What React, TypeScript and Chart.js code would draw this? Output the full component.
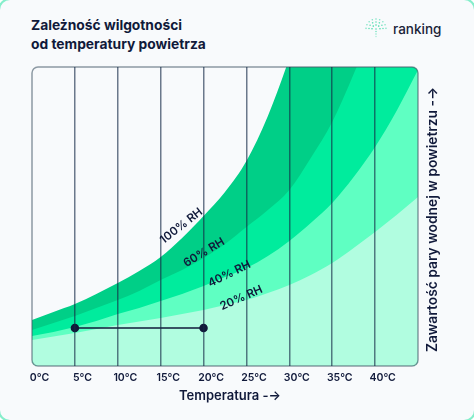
import { useEffect, useRef } from 'react';
import Chart from 'chart.js/auto';

const temps = [0, 2.5, 5, 7.5, 10, 12.5, 15, 17.5, 20, 22.5, 25, 27.5, 30, 32.5, 35, 37.5, 40, 42.5, 45];
const rh100 = [46, 54, 62, 72, 83, 95, 109, 128, 150, 174, 205, 250, 308, 375, 450, 535, 630, 740, 860];
const rh60 = [36, 43, 50, 58, 66, 75, 86, 96, 108, 122, 139, 156, 176, 208, 244, 292, 345, 405, 470];
const rh40 = [30, 34, 39, 45, 52, 58, 65, 72, 80, 89, 98, 110, 125, 143, 163, 189, 219, 255, 296];
const rh20 = [26, 29.5, 33, 37, 41, 44.5, 48, 52, 56, 61, 66, 73, 81, 91, 103, 118, 134, 151, 169];
const tickLabels = ['0°C', '5°C', '10°C', '15°C', '20°C', '25°C', '30°C', '35°C', '40°C'];

const segmentTemps = [5, 20];
const segmentValues = [38, 38];

const rhNames = ['100% RH', '60% RH', '40% RH', '20% RH'];
const rhNameTemps = [17.4, 20.05, 23, 24.4];
const rhNameValues = [140, 113.5, 92, 68];
const rhNameAngles = [-38, -31, -26, -24];

const titleLines = ['Zależność wilgotności', 'od temperatury powietrza'];
const xTitle = 'Temperatura -→';
const yTitle = 'Zawartość pary wodnej w powietrzu -→';

const NAVY = '#10193a';
const FONT = 'Inter, sans-serif';

const toPoints = (values: number[]) => temps.map((t, i) => ({ x: t, y: values[i] }));

const band = (label: string, values: number[], color: string) => ({
    label,
    data: toPoints(values),
    backgroundColor: color,
    borderWidth: 0,
    pointRadius: 0,
    cubicInterpolationMode: 'monotone' as const,
    fill: 'start',
});

const plotFrame = {
    id: 'plotFrame',
    beforeDatasetsDraw(chart: any) {
        const { ctx, chartArea: a } = chart;
        ctx.save();
        ctx.beginPath();
        ctx.roundRect(a.left, a.top, a.width, a.height, 6);
        ctx.clip();
    },
    afterDatasetsDraw(chart: any) {
        const { ctx, chartArea: a } = chart;
        ctx.restore();
        ctx.save();
        ctx.beginPath();
        ctx.roundRect(a.left, a.top, a.width, a.height, 6);
        ctx.lineWidth = 1.5;
        ctx.strokeStyle = 'rgba(70, 90, 105, 0.6)';
        ctx.stroke();
        ctx.restore();
    },
};

const extraText = {
    id: 'extraText',
    afterDraw(chart: any) {
        const { ctx, chartArea: a, scales } = chart;
        ctx.save();
        ctx.fillStyle = NAVY;
        ctx.textAlign = 'center';
        ctx.textBaseline = 'middle';
        ctx.font = `600 11.5px ${FONT}`;
        rhNames.forEach((name, i) => {
            ctx.save();
            ctx.translate(scales.x.getPixelForValue(rhNameTemps[i]), scales.y.getPixelForValue(rhNameValues[i]));
            ctx.rotate((rhNameAngles[i] * Math.PI) / 180);
            ctx.fillText(name, 0, 0);
            ctx.restore();
        });
        ctx.font = `600 13px ${FONT}`;
        ctx.fillText(xTitle, (a.left + a.right) / 2 + 5, a.bottom + 30);
        ctx.translate(a.right + 15, (a.top + a.bottom) / 2 + 3);
        ctx.rotate(-Math.PI / 2);
        ctx.font = `600 13.8px ${FONT}`;
        ctx.fillText(yTitle, 0, 0);
        ctx.restore();
    },
};

// logo dots, three arcs and a stem
const logoDots: { x: number; y: number; o: number }[] = [];
[[10, 9], [7, 7], [4, 5]].forEach(([r, n], k) => {
    for (let i = 0; i < n; i++) {
        const a = Math.PI * (1.02 + (0.96 * i) / (n - 1));
        logoDots.push({ x: 11 + r * Math.cos(a), y: 11 + r * Math.sin(a), o: 0.6 + k * 0.15 });
    }
});
[11, 13.5, 16, 18.5].forEach((y, i) => logoDots.push({ x: 11, y, o: 0.8 - i * 0.15 }));

export default function App() {
    const canvas = useRef<HTMLCanvasElement>(null);

    useEffect(() => {
        const chart = new Chart(canvas.current as HTMLCanvasElement, {
            type: 'line',
            data: {
                datasets: [
                    {
                        label: 'segment',
                        data: segmentTemps.map((t, i) => ({ x: t, y: segmentValues[i] })),
                        borderColor: NAVY,
                        backgroundColor: NAVY,
                        borderWidth: 1.5,
                        pointRadius: 3.5,
                    },
                    band('20% RH', rh20, '#b1fde0'),
                    band('40% RH', rh40, '#5fffc2'),
                    band('60% RH', rh60, '#00ec9d'),
                    band('100% RH', rh100, '#00cf87'),
                ],
            },
            options: {
                animation: false,
                responsive: false,
                layout: { padding: { left: 32, right: 56, top: 67, bottom: 0 } },
                plugins: { legend: { display: false }, tooltip: { enabled: false } },
                scales: {
                    x: {
                        type: 'linear',
                        min: 0,
                        max: 45,
                        afterFit: (scale: any) => {
                            scale.height = 54;
                        },
                        border: { display: false },
                        grid: {
                            z: 1,
                            drawTicks: false,
                            lineWidth: 1.5,
                            color: (c: any) =>
                                c.tick && (c.tick.value === 0 || c.tick.value === 45) ? 'transparent' : 'rgba(20, 40, 70, 0.62)',
                        },
                        ticks: {
                            stepSize: 5,
                            autoSkip: false,
                            maxRotation: 0,
                            padding: 6,
                            labelOffset: 7.5,
                            color: NAVY,
                            font: { family: FONT, size: 10.5, weight: 600 },
                            callback: (value: any) => tickLabels[value / 5] ?? '',
                        },
                    },
                    y: { display: false, min: 0, max: 299 },
                },
            },
            plugins: [plotFrame, extraText],
        } as any);
        return () => chart.destroy();
    }, []);

    return (
        <div style={{ position: 'fixed', left: 0, top: 0, width: 474, height: 420, overflow: 'hidden', background: '#ffffff' }}>
            <div style={{ position: 'absolute', left: -2, top: -2, width: 478, height: 424, boxSizing: 'border-box', border: '2px solid #86eecb', borderRadius: 12, background: '#f8fafc' }} />
            <div style={{ position: 'absolute', left: 31, top: 16, font: `700 13.8px/18.5px ${FONT}`, color: NAVY }}>
                {titleLines.map(line => (
                    <div key={line}>{line}</div>
                ))}
            </div>
            <svg width={22} height={22} style={{ position: 'absolute', left: 365, top: 18 }}>
                {logoDots.map((d, i) => (
                    <circle key={i} cx={d.x} cy={d.y} r={0.8} fill="#2fd6a0" opacity={d.o} />
                ))}
            </svg>
            <div style={{ position: 'absolute', left: 393, top: 20, font: `500 13.5px/18px ${FONT}`, color: '#1a2238' }}>ranking</div>
            <canvas ref={canvas} width={474} height={420} style={{ position: 'absolute', left: 0, top: 0 }} />
        </div>
    );
}
